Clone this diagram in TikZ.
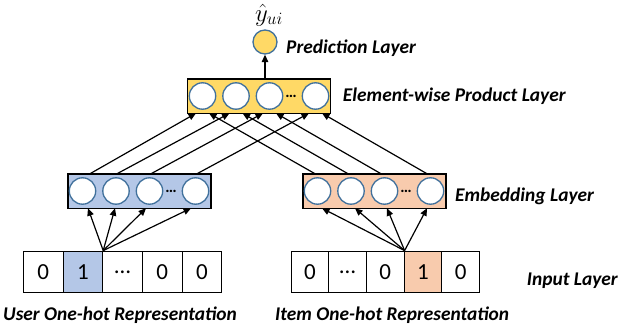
\documentclass[tikz,border=0pt]{standalone}
\usepackage{fontspec}
\setmainfont{Carlito}
\usetikzlibrary{arrows.meta}
\definecolor{cblue}{RGB}{180,199,231}
\definecolor{corange}{RGB}{248,203,173}
\definecolor{cyellow}{RGB}{255,217,102}
\definecolor{cline}{RGB}{65,113,156}
\begin{document}
\begin{tikzpicture}[x=1pt,y=-1pt,
 layerbox/.style={draw=black, line width=1.5pt, minimum width=143pt, minimum height=34.5pt, inner sep=0pt},
 unit/.style={circle, draw=cline, fill=white, line width=1.3pt, minimum size=26.4pt, inner sep=0pt},
 cell/.style={draw=black, line width=1pt, minimum height=41.5pt, inner sep=0pt, font=\fontsize{23}{26}\selectfont},
 lbl/.style={font=\fontsize{19.4}{22}\selectfont\bfseries\itshape, inner sep=0pt},
 conn/.style={line width=1.2pt},
 arr/.style={line width=1.2pt, -{Triangle[length=7.5pt,width=6.5pt]}},
 dots/.style={font=\fontsize{16}{18}\selectfont\bfseries, inner sep=0pt}
]
\useasboundingbox (0,0) rectangle (618,329);

% input cells
\foreach \t/\f [count=\i] in {0/white,1/cblue,…/white,0/white,0/white}{
  \node[cell, minimum width=39.7pt, fill=\f] (lc\i) at ({23.3+19.85+39.7*(\i-1)},271.85) {\t};
}
\foreach \t/\f [count=\i] in {0/white,…/white,0/white,1/corange,0/white}{
  \node[cell, minimum width=37.7pt, fill=\f] (rc\i) at ({291+18.85+37.7*(\i-1)},271.85) {\t};
}

% layer boxes
\node[layerbox, fill=cblue] (le) at (139.5,191) {};
\node[layerbox, fill=corange] (re) at (374.5,191) {};
\node[layerbox, fill=cyellow] (pe) at (259,96) {};
\foreach \b/\x/\y in {le/68/191, re/303/191, pe/188/96}{
  \foreach \o [count=\i] in {14.5,48,81.5,127.5}{
    \node[unit] (\b c\i) at ({\x+\o},\y) {};
  }
  \node[dots] (\b d) at ({\x+103},\y) {…};
}

% prediction
\node[unit, fill=cyellow, minimum size=24pt] (pred) at (265,42) {};
\node[inner sep=0pt, font=\fontsize{26}{30}\selectfont] (yhat) at (269,15) {$\hat{y}_{ui}$};
\coordinate (pt) at (265,78.75);
\draw[arr] (pt) -- (pred.south);

% lines from embedding to product
\foreach \xs/\xt [count=\i] in {90/196, 117/229.5, 151/263, 197/309}{
  \coordinate (ls\i) at (\xs,173.75);
  \coordinate (plt\i) at (\xt,113.25);
  \draw[arr] (ls\i) -- (plt\i);
}
\foreach \xs/\xt [count=\i] in {315/209, 348/242.5, 381/276, 427/322}{
  \coordinate (rs\i) at (\xs,173.75);
  \coordinate (prt\i) at (\xt,113.25);
  \draw[arr] (rs\i) -- (prt\i);
}

% arrows from input to embedding
\foreach \xt [count=\i] in {88,115,146,191}{
  \coordinate (let\i) at (\xt,208.25);
  \draw[arr] (lc2.north east) -- (let\i);
}
\foreach \xt [count=\i] in {322,355,387,427}{
  \coordinate (ret\i) at (\xt,208.25);
  \draw[arr] (rc3.north east) -- (ret\i);
}

% labels
\node[lbl, anchor=west] (lp) at (286,48) {Prediction Layer};
\node[lbl, anchor=west] (lq) at (342.7,96.5) {Element-wise Product Layer};
\node[lbl, anchor=west] (lr) at (455,196.5) {Embedding Layer};
\node[lbl, anchor=west] (ls) at (526.7,280.5) {Input Layer};
\node[lbl] (lu) at (120,315) {User One-hot Representation};
\node[lbl, anchor=west] (li) at (275,315) {Item One-hot Representation};
\end{tikzpicture}
\end{document}
